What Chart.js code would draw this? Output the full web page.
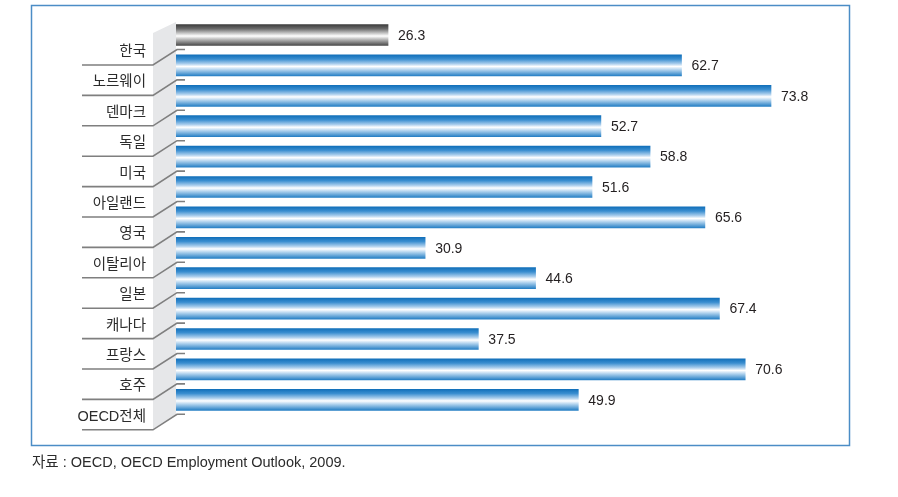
<!DOCTYPE html>
<html>
<head>
<meta charset="utf-8">
<script src="https://cdn.jsdelivr.net/npm/chart.js@4/dist/chart.umd.min.js"></script>
<style>
html,body{margin:0;padding:0;background:#fff;}
#wrap{position:relative;width:898px;height:497px;}
canvas{display:block;}
</style>
</head>
<body>
<div id="wrap"><canvas id="c" width="898" height="497"></canvas></div>
<script>
const categories = ['한국','노르웨이','덴마크','독일','미국','아일랜드','영국','이탈리아','일본','캐나다','프랑스','호주','OECD전체'];
const values = [26.3, 62.7, 73.8, 52.7, 58.8, 51.6, 65.6, 30.9, 44.6, 67.4, 37.5, 70.6, 49.9];
const highlightIndex = 0;
const sourceNote = '자료 : OECD, OECD Employment Outlook, 2009.';

const FONT = '"Liberation Sans", "Noto Sans CJK KR", sans-serif';
const BAR_H = 21;

function barFill(ctx) {
  const chart = ctx.chart;
  if (!chart.chartArea || !chart.scales.y) return '#2a85c8';
  const c = chart.scales.y.getPixelForValue(ctx.dataIndex);
  const g = chart.ctx.createLinearGradient(0, c - BAR_H / 2, 0, c + BAR_H / 2);
  if (ctx.dataIndex === highlightIndex) {
    g.addColorStop(0, '#3c3c3c');
    g.addColorStop(0.2, '#6a6a6a');
    g.addColorStop(0.42, '#c8c8c8');
    g.addColorStop(0.55, '#ffffff');
    g.addColorStop(0.7, '#bdbdbd');
    g.addColorStop(1, '#4a4a4a');
  } else {
    g.addColorStop(0, '#1270ba');
    g.addColorStop(0.2, '#3a8ed0');
    g.addColorStop(0.42, '#a9cdec');
    g.addColorStop(0.55, '#ffffff');
    g.addColorStop(0.7, '#b5d5ef');
    g.addColorStop(1, '#2780c5');
  }
  return g;
}

const decor = {
  id: 'decor',
  beforeDatasetsDraw(chart) {
    const ctx = chart.ctx;
    const y = chart.scales.y, x = chart.scales.x;
    const x0 = x.getPixelForValue(0);
    const px = x0 - 23;
    const n = categories.length;
    const c0 = y.getPixelForValue(0);
    const cN = y.getPixelForValue(n - 1);
    ctx.save();
    // outer frame
    ctx.strokeStyle = '#4b8dc6';
    ctx.lineWidth = 1.5;
    ctx.strokeRect(31.5, 5.5, 818, 440);
    // side panel
    ctx.fillStyle = '#e6e7e9';
    ctx.beginPath();
    ctx.moveTo(px, c0 - 2);
    ctx.lineTo(x0, c0 - 13);
    ctx.lineTo(x0, cN + 15);
    ctx.lineTo(px, cN + 30);
    ctx.closePath();
    ctx.fill();
    // connectors and labels
    ctx.strokeStyle = '#7f7f7f';
    ctx.lineWidth = 1.6;
    ctx.fillStyle = '#2b2b2b';
    ctx.font = '14.5px ' + FONT;
    ctx.textAlign = 'right';
    ctx.textBaseline = 'middle';
    for (let i = 0; i < n; i++) {
      const c = y.getPixelForValue(i);
      const ly = c + 30;
      ctx.beginPath();
      ctx.moveTo(82, ly);
      ctx.lineTo(px, ly);
      ctx.lineTo(x0 + 1, c + 14.5);
      ctx.lineTo(x0 + 9, c + 14.5);
      ctx.stroke();
      ctx.fillText(categories[i], 146, ly - 13);
    }
    // source note
    ctx.textAlign = 'left';
    ctx.fillStyle = '#2b2b2b';
    ctx.font = '14.5px ' + FONT;
    ctx.fillText(sourceNote, 32, 463);
    ctx.restore();
  },
  afterDatasetsDraw(chart) {
    const ctx = chart.ctx;
    const y = chart.scales.y, x = chart.scales.x;
    ctx.save();
    ctx.fillStyle = '#231f20';
    ctx.font = '14px ' + FONT;
    ctx.textAlign = 'left';
    ctx.textBaseline = 'middle';
    values.forEach((v, i) => {
      ctx.fillText(v.toFixed(1), x.getPixelForValue(v) + 10, y.getPixelForValue(i) + 1);
    });
    ctx.restore();
  }
};

new Chart(document.getElementById('c'), {
  type: 'bar',
  data: {
    labels: categories,
    datasets: [{
      data: values,
      backgroundColor: barFill,
      borderWidth: 0,
      barThickness: BAR_H,
      categoryPercentage: 1,
      barPercentage: 1
    }]
  },
  options: {
    indexAxis: 'y',
    responsive: false,
    animation: false,
    events: [],
    layout: { padding: { left: 176, right: 77, top: 19.8, bottom: 82 } },
    scales: {
      x: { display: false, min: 0, max: 80 },
      y: { display: false }
    },
    plugins: { legend: { display: false }, tooltip: { enabled: false } }
  },
  plugins: [decor]
});
</script>
</body>
</html>
